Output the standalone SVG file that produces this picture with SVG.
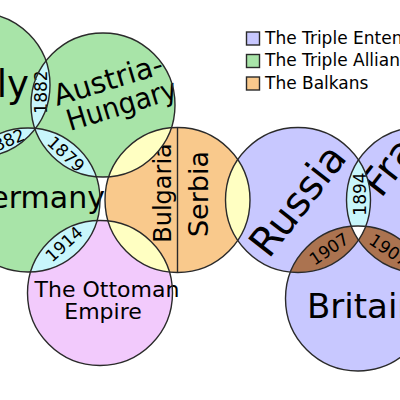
<svg xmlns="http://www.w3.org/2000/svg" xmlns:xlink="http://www.w3.org/1999/xlink" width="400" height="400" viewBox="0 0 400 400">
<style>
text{font-family:"DejaVu Sans","Liberation Sans",sans-serif;fill:#000}
.ent{fill:#c8c8ff}.all{fill:#a8e4a8}.bal{fill:#f9c98c}.ott{fill:#f2cafc}
.lensc{fill:#c8f6fb}.lensy{fill:#ffffc2}.lensb{fill:#ab7350}.tri{fill:#fff}
.ol{fill:none;stroke:#2a2a2a;stroke-width:1.4}
.yr{font-size:17px;text-anchor:middle}
.lg{font-size:17px}
.sq{stroke:#2a2a2a;stroke-width:1.4}
</style>
<defs>
<circle id="cI" cx="-22" cy="85" r="72"/>
<circle id="cA" cx="103" cy="105" r="72"/>
<circle id="cG" cx="28" cy="200" r="72"/>
<circle id="cB" cx="177.5" cy="200" r="72.5"/>
<circle id="cO" cx="100" cy="293" r="72.5"/>
<circle id="cR" cx="298" cy="200" r="72.5"/>
<circle id="cF" cx="419" cy="200" r="72.5"/>
<circle id="cT" cx="358" cy="298.5" r="72.5"/>
<clipPath id="kI"><use xlink:href="#cI"/></clipPath>
<clipPath id="kA"><use xlink:href="#cA"/></clipPath>
<clipPath id="kG"><use xlink:href="#cG"/></clipPath>
<clipPath id="kB"><use xlink:href="#cB"/></clipPath>
<clipPath id="kR"><use xlink:href="#cR"/></clipPath>
<clipPath id="kF"><use xlink:href="#cF"/></clipPath>
<clipPath id="kT"><use xlink:href="#cT"/></clipPath>
</defs>
<rect width="400" height="400" fill="#fff"/>
<g id="italy"><use xlink:href="#cI" class="all"/><text x="29" y="97" font-size="37" text-anchor="end">Italy</text></g>
<g id="austria-hungary"><use xlink:href="#cA" class="all"/>
<text font-size="29" transform="translate(57,106) rotate(-17)"><tspan x="0" y="0">Austria-</tspan><tspan x="5" y="27.7" textLength="114" lengthAdjust="spacingAndGlyphs">Hungary</tspan></text></g>
<g id="germany"><use xlink:href="#cG" class="all"/><text x="105" y="208" font-size="30" text-anchor="end">Germany</text></g>
<g id="balkans"><use xlink:href="#cB" class="bal"/>
<text font-size="24" text-anchor="middle" transform="translate(171,193) rotate(-90)">Bulgaria</text>
<text font-size="27" text-anchor="middle" transform="translate(208,194) rotate(-90)">Serbia</text></g>
<g id="ottoman"><use xlink:href="#cO" class="ott"/>
<text font-size="22" text-anchor="middle"><tspan x="107" y="297">The Ottoman</tspan><tspan x="103" y="318.5">Empire</tspan></text></g>
<g id="russia"><use xlink:href="#cR" class="ent"/><text font-size="40" text-anchor="middle" transform="translate(297,200) rotate(-52)" y="14.5">Russia</text></g>
<g id="france"><use xlink:href="#cF" class="ent"/><text font-size="40" transform="translate(381,199) rotate(-52)">France</text></g>
<g id="britain"><use xlink:href="#cT" class="ent"/><text x="307" y="318" font-size="34">Britain</text></g>
<g id="overlaps">
<use xlink:href="#cA" clip-path="url(#kI)" class="lensc"/>
<use xlink:href="#cG" clip-path="url(#kI)" class="lensc"/>
<use xlink:href="#cG" clip-path="url(#kA)" class="lensc"/>
<g clip-path="url(#kI)"><use xlink:href="#cA" clip-path="url(#kG)" class="tri"/></g>
<use xlink:href="#cO" clip-path="url(#kG)" class="lensc"/>
<use xlink:href="#cA" clip-path="url(#kB)" class="lensy"/>
<use xlink:href="#cO" clip-path="url(#kB)" class="lensy"/>
<use xlink:href="#cR" clip-path="url(#kB)" class="lensy"/>
<use xlink:href="#cF" clip-path="url(#kR)" class="lensc"/>
<use xlink:href="#cT" clip-path="url(#kR)" class="lensb"/>
<use xlink:href="#cT" clip-path="url(#kF)" class="lensb"/>
<g clip-path="url(#kR)"><use xlink:href="#cF" clip-path="url(#kT)" class="tri"/></g>
</g>
<g id="years">
<text class="yr" transform="translate(47,92) rotate(-90)">1882</text>
<text class="yr" transform="translate(4,142) rotate(-22.5)" y="6">1882</text>
<text class="yr" transform="translate(66,154) rotate(43)" y="6">1879</text>
<text class="yr" transform="translate(64,244) rotate(-42)" y="6">1914</text>
<text class="yr" transform="translate(366,194) rotate(-90)">1894</text>
<text class="yr" transform="translate(329,249) rotate(-34)" y="6">1907</text>
<text class="yr" transform="translate(389,250) rotate(34)" y="6">1907</text>
</g>
<g id="outlines" class="ol">
<use xlink:href="#cI"/><use xlink:href="#cA"/><use xlink:href="#cG"/><use xlink:href="#cB"/>
<use xlink:href="#cO"/><use xlink:href="#cR"/><use xlink:href="#cF"/><use xlink:href="#cT"/>
<line x1="177.5" y1="127.5" x2="177.5" y2="272.5"/>
</g>
<g id="legend">
<rect class="sq ent" x="246.5" y="32" width="13" height="13"/>
<rect class="sq all" x="246.5" y="54.5" width="13" height="13"/>
<rect class="sq bal" x="246.5" y="77" width="13" height="13"/>
<text class="lg" x="265" y="43.5">The Triple Entente</text>
<text class="lg" x="265" y="66">The Triple Alliance</text>
<text class="lg" x="265" y="88.5">The Balkans</text>
</g>
</svg>
